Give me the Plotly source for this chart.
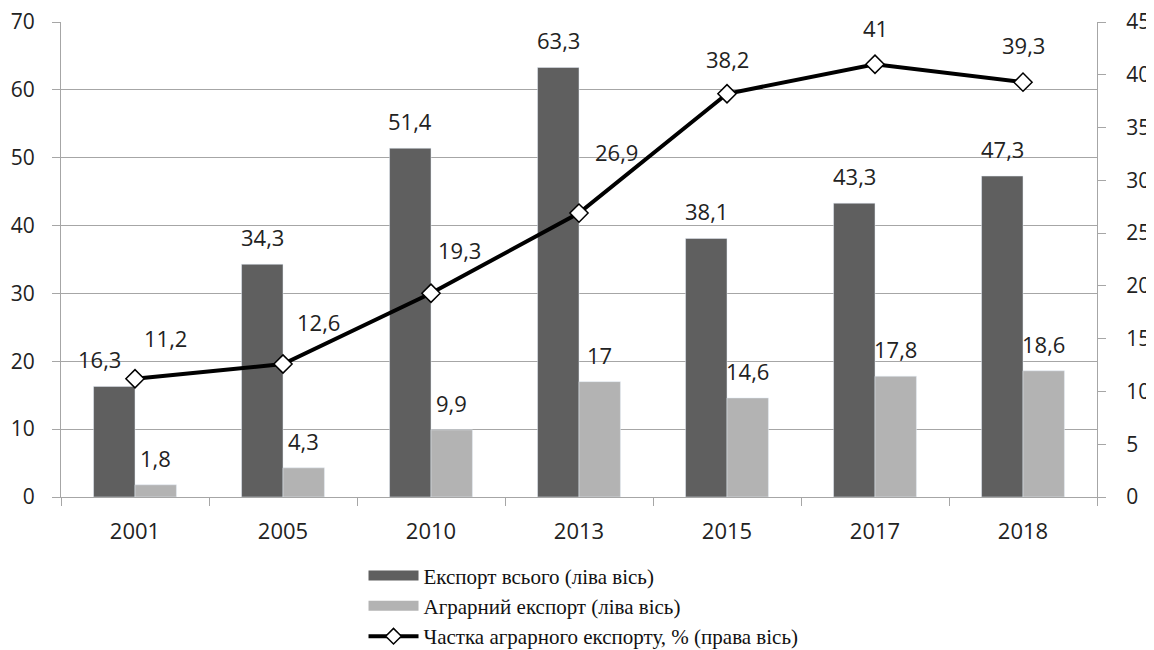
import plotly.graph_objects as go

years = ["2001", "2005", "2010", "2013", "2015", "2017", "2018"]
export_total = [16.3, 34.3, 51.4, 63.3, 38.1, 43.3, 47.3]
agro_export = [1.8, 4.3, 9.9, 17.0, 14.6, 17.8, 18.6]
agro_share = [11.2, 12.6, 19.3, 26.9, 38.2, 41.0, 39.3]

names = ["Експорт всього (ліва вісь)", "Аграрний експорт (ліва вісь)",
         "Частка аграрного експорту, % (права вісь)"]

# label offsets (px) for line data labels
share_dx = [30, 35, 28, 37, 0, 0, 0]
share_dy = [-41, -42, -43, -61, -35, -36, -37]
# extra x offsets for dark bar labels
total_dx = [-15, 0, 0, 0, 0, 0, 0]

dark = "#5f5f5f"
light = "#b3b3b3"
LBL = dict(family="Open Sans", size=22, color="#222")
BAR_HALF = 20.7
BAR_LBL_UP = 27


def fmt(v):
    s = ("%g" % v)
    return s.replace(".", ",")


fig = go.Figure()
fig.add_trace(go.Bar(x=years, y=export_total, name=names[0], marker_color=dark,
                     showlegend=False))
fig.add_trace(go.Bar(x=years, y=agro_export, name=names[1], marker_color=light,
                     showlegend=False))
fig.add_trace(go.Scatter(x=years, y=agro_share, name=names[2], yaxis="y2",
                         mode="lines+markers",
                         line=dict(color="black", width=4),
                         marker=dict(symbol="diamond", size=14, color="white",
                                     line=dict(color="black", width=1.5)),
                         cliponaxis=False, showlegend=False))

# legend entries
fig.add_trace(go.Scatter(x=[None], y=[None], mode="lines", name=names[0],
                         line=dict(color=dark, width=11)))
fig.add_trace(go.Scatter(x=[None], y=[None], mode="lines", name=names[1],
                         line=dict(color=light, width=11)))
fig.add_trace(go.Scatter(x=[None], y=[None], mode="lines+markers", name=names[2],
                         line=dict(color="black", width=4),
                         marker=dict(symbol="diamond", size=12, color="white",
                                     line=dict(color="black", width=1.5))))

for i, (v, dx) in enumerate(zip(export_total, total_dx)):
    fig.add_annotation(x=i, y=v, xref="x", yref="y", text=fmt(v), showarrow=False,
                       xshift=-BAR_HALF + dx, yshift=BAR_LBL_UP, font=LBL)
for i, v in enumerate(agro_export):
    fig.add_annotation(x=i, y=v, xref="x", yref="y", text=fmt(v), showarrow=False,
                       xshift=BAR_HALF, yshift=BAR_LBL_UP, font=LBL)
for i, (v, dx, dy) in enumerate(zip(agro_share, share_dx, share_dy)):
    fig.add_annotation(x=i, y=v, xref="x", yref="y2", text=fmt(v), showarrow=False,
                       xshift=dx, yshift=-dy, font=LBL)

grid = "#a6a6a6"
fig.update_layout(
    width=1146, height=642,
    margin=dict(l=53, r=57, t=14, b=153, autoexpand=False),
    plot_bgcolor="white", paper_bgcolor="white",
    barmode="group", bargap=0.44, bargroupgap=0,
    font=dict(family="Open Sans", size=22, color="#222"),
    xaxis=dict(type="category", showline=True, linecolor=grid, linewidth=1,
               ticks="outside", tickson="boundaries", ticklen=8, tickcolor=grid,
               tickfont=dict(size=22), ticklabelstandoff=15, tickangle=0,
               range=[-0.5, 6.5], automargin=False, ticklabeloverflow="allow"),
    yaxis=dict(range=[0, 70], dtick=10, showgrid=True, gridcolor=grid, gridwidth=1,
               showline=True, linecolor=grid, ticks="outside", ticklen=8,
               tickcolor=grid, zeroline=False, tickfont=dict(size=21),
               ticklabelstandoff=13, automargin=False, ticklabeloverflow="allow"),
    yaxis2=dict(range=[0, 45], dtick=5, overlaying="y", side="right", showgrid=False,
                showline=True, linecolor=grid, ticks="outside", ticklen=8,
                tickcolor=grid, zeroline=False, tickfont=dict(size=21),
                ticklabelstandoff=16, automargin=False, ticklabeloverflow="allow"),
    legend=dict(x=0.292, xanchor="left", y=-0.123, yanchor="top",
                font=dict(family="Liberation Serif", size=21, color="#111"),
                traceorder="normal", tracegroupgap=0, itemwidth=50),
    showlegend=True,
)

fig.write_html("out.html")
